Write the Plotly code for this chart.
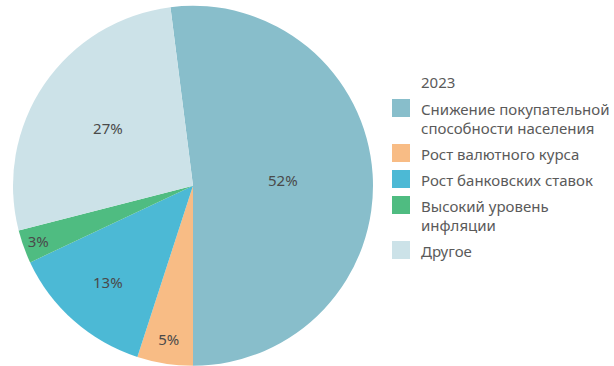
import plotly.graph_objects as go

# ---- data ----
legend_title = "2023"
label_lines = [
    ["Снижение покупательной", "способности населения"],
    ["Рост валютного курса"],
    ["Рост банковских ставок"],
    ["Высокий уровень", "инфляции"],
    ["Другое"],
]
labels = [" ".join(l) for l in label_lines]
values = [52, 5, 13, 3, 27]
colors = ["#88BECB", "#F8BC85", "#4CB9D5", "#4FBC81", "#CCE2E8"]

W, H = 614, 366
FONT = "Noto Sans"

fig = go.Figure(go.Pie(
    labels=labels,
    values=values,
    marker=dict(colors=colors, line=dict(width=0)),
    sort=False,
    direction="clockwise",
    rotation=-7.2,
    texttemplate="%{value}%",
    textposition="inside",
    insidetextorientation="horizontal",
    textfont=dict(family=FONT, size=15, color="#4a4a4a"),
    hoverinfo="label+percent",
    showlegend=False,
    domain=dict(x=[13 / W, 373 / W], y=[0, 0.985]),
))

# ---- manual legend ----
def py(y):
    return 1 - y / H

def px(x):
    return x / W

shapes = []
annotations = [dict(
    x=px(419), y=py(82), xref="paper", yref="paper", text=legend_title,
    showarrow=False, xanchor="left", yanchor="middle",
    font=dict(family=FONT, size=15, color="#5a5a5a"),
)]
top = 99
for lines, c in zip(label_lines, colors):
    shapes.append(dict(type="rect", xref="paper", yref="paper",
                       x0=px(392), x1=px(410), y0=py(top), y1=py(top + 18),
                       fillcolor=c, line=dict(width=0)))
    for i, t in enumerate(lines):
        annotations.append(dict(
            x=px(419), y=py(top + 10 + 19 * i), xref="paper", yref="paper",
            text=t, showarrow=False, xanchor="left", yanchor="middle",
            font=dict(family=FONT, size=15, color="#5a5a5a"),
        ))
    top += 26 + 19 * (len(lines) - 1)

fig.update_layout(
    width=W, height=H,
    margin=dict(l=0, r=0, t=0, b=0),
    paper_bgcolor="white", plot_bgcolor="white",
    shapes=shapes, annotations=annotations,
    showlegend=False,
)

fig.write_html("out.html")
